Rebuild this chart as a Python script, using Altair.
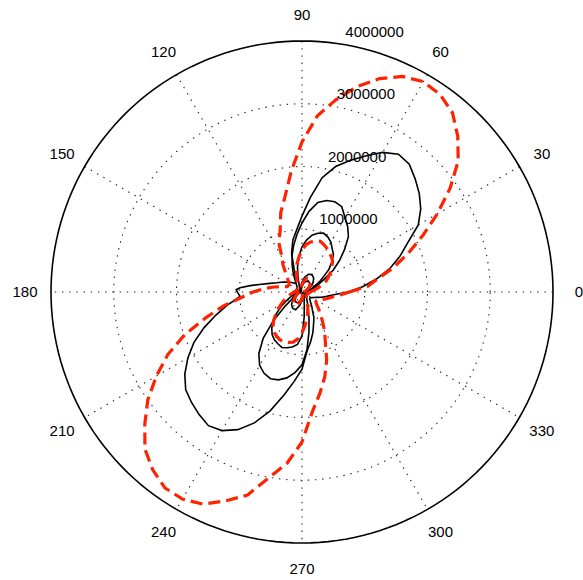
import altair as alt
import numpy as np
import pandas as pd

# ---- polar pattern data: angles in degrees, radii in millions ----
step5 = list(range(0, 360, 5))
step10 = list(range(0, 360, 10))

red_big_deg = step5
red_big_r = [0.76, 1.05, 1.23, 1.51, 1.80, 2.12, 2.49, 2.88, 3.25, 3.51, 3.73, 3.84,
             3.87, 3.79, 3.62, 3.39, 3.11, 2.82, 2.39, 1.94, 1.55, 1.31, 1.02, 0.88,
             0.64, 0.53, 0.41, 0.33, 0.29, 0.25, 0.24, 0.24, 0.25, 0.32, 0.46, 0.61,
             0.78, 0.96, 1.27, 1.59, 1.99, 2.36, 2.68, 3.00, 3.27, 3.54, 3.70, 3.81,
             3.81, 3.73, 3.54, 3.35, 3.00, 2.74, 2.39, 1.91, 1.64, 1.40, 1.15, 0.88,
             0.72, 0.57, 0.45, 0.37, 0.30, 0.27, 0.27, 0.30, 0.35, 0.41, 0.48, 0.59]

red_small_deg = step5
red_small_r = [0.13, 0.16, 0.21, 0.27, 0.35, 0.43, 0.49, 0.56, 0.62, 0.69, 0.73, 0.76,
               0.80, 0.83, 0.86, 0.84, 0.81, 0.76, 0.67, 0.56, 0.46, 0.35, 0.25, 0.18,
               0.13, 0.10, 0.08, 0.08, 0.08, 0.08, 0.08, 0.08, 0.08, 0.09, 0.10, 0.11,
               0.13, 0.14, 0.18, 0.21, 0.25, 0.32, 0.38, 0.46, 0.54, 0.64, 0.72, 0.78,
               0.81, 0.84, 0.84, 0.83, 0.81, 0.75, 0.65, 0.54, 0.43, 0.35, 0.27, 0.21,
               0.16, 0.13, 0.11, 0.10, 0.09, 0.09, 0.09, 0.09, 0.09, 0.10, 0.11, 0.12]

red_tiny_deg = step10
red_tiny_r = [0.02, 0.04, 0.07, 0.12, 0.17, 0.21, 0.24, 0.23, 0.18, 0.12, 0.07, 0.04,
              0.02, 0.02, 0.02, 0.02, 0.02, 0.02, 0.02, 0.04, 0.07, 0.11, 0.16, 0.21,
              0.23, 0.22, 0.16, 0.10, 0.05, 0.03, 0.02, 0.02, 0.02, 0.02, 0.02, 0.02]

black_big_deg = list(range(0, 171, 5)) + [173, 176, 178, 181, 184, 187] + list(range(190, 360, 5))
black_big_r = [0.73, 0.97, 1.21, 1.45, 1.66, 1.86, 2.14, 2.31, 2.44, 2.55,
               2.66, 2.68, 2.57, 2.39, 2.23, 2.07, 1.85, 1.51, 1.21, 0.99,
               0.84, 0.64, 0.35, 0.24, 0.19, 0.18, 0.18, 0.21, 0.24, 0.27,
               0.32, 0.37, 0.43, 0.53, 0.69,
               0.83, 0.99, 1.05, 1.02, 0.99, 1.08,
               1.21, 1.42, 1.66, 1.90, 2.10, 2.28, 2.42, 2.49, 2.55, 2.60,
               2.55, 2.42, 2.22, 1.96, 1.67, 1.43, 1.23, 0.94, 0.80, 0.67,
               0.54, 0.45, 0.33, 0.27, 0.21, 0.18, 0.16, 0.16, 0.18, 0.21,
               0.25, 0.32, 0.40, 0.51]

black_mid_deg = step5
black_mid_r = [0.06, 0.08, 0.10, 0.14, 0.21, 0.29, 0.41, 0.61, 0.78, 0.96, 1.15, 1.27,
               1.37, 1.50, 1.53, 1.51, 1.45, 1.29, 1.10, 0.92, 0.76, 0.61, 0.46, 0.33,
               0.22, 0.16, 0.13, 0.11, 0.10, 0.10, 0.10, 0.10, 0.10, 0.10, 0.10, 0.10,
               0.10, 0.10, 0.10, 0.10, 0.11, 0.13, 0.16, 0.19, 0.35, 0.64, 0.96, 1.20,
               1.35, 1.43, 1.47, 1.45, 1.39, 1.29, 1.16, 0.92, 0.64, 0.43, 0.29, 0.21,
               0.16, 0.13, 0.11, 0.10, 0.09, 0.08, 0.07, 0.07, 0.06, 0.06, 0.06, 0.06]

black_small_deg = step5
black_small_r = [0.05, 0.06, 0.08, 0.11, 0.16, 0.22, 0.32, 0.41, 0.56, 0.67, 0.78, 0.84,
                 0.92, 0.97, 1.00, 0.97, 0.92, 0.83, 0.72, 0.57, 0.41, 0.25, 0.14, 0.10,
                 0.06, 0.05, 0.05, 0.05, 0.05, 0.05, 0.05, 0.05, 0.05, 0.05, 0.06, 0.06,
                 0.07, 0.08, 0.10, 0.12, 0.16, 0.22, 0.30, 0.41, 0.53, 0.64, 0.75, 0.83,
                 0.88, 0.91, 0.94, 0.92, 0.89, 0.84, 0.70, 0.40, 0.21, 0.13, 0.10, 0.08,
                 0.06, 0.05, 0.05, 0.05, 0.05, 0.05, 0.05, 0.05, 0.05, 0.05, 0.05, 0.05]

black_tiny1_deg = step10
black_tiny1_r = [0.03, 0.05, 0.09, 0.15, 0.23, 0.29, 0.32, 0.30, 0.24, 0.16, 0.09, 0.05,
                 0.03, 0.02, 0.02, 0.02, 0.02, 0.02, 0.03, 0.04, 0.07, 0.12, 0.19, 0.26,
                 0.30, 0.30, 0.22, 0.14, 0.08, 0.04, 0.03, 0.02, 0.02, 0.02, 0.02, 0.02]

black_tiny2_deg = step10
black_tiny2_r = [0.02, 0.03, 0.06, 0.10, 0.15, 0.19, 0.20, 0.18, 0.14, 0.09, 0.05, 0.03,
                 0.02, 0.02, 0.02, 0.02, 0.02, 0.02, 0.02, 0.03, 0.05, 0.09, 0.13, 0.17,
                 0.19, 0.18, 0.13, 0.08, 0.05, 0.03, 0.02, 0.02, 0.02, 0.02, 0.02, 0.02]

# ---- polar grid settings ----
ring_values = [1, 2, 3]          # dotted rings (millions)
r_max = 4                        # outer solid circle (millions)
spoke_angles = [0, 30, 60, 90, 120, 150]
angle_labels = list(range(0, 360, 30))
ring_label_values = [1, 2, 3, 4]

FONT = "Liberation Sans"


def polar_frame(name, deg, r):
    """Closed polar curve -> cartesian points in drawing order."""
    deg = list(deg) + [deg[0] + 360]
    r = np.array(list(r) + [r[0]], dtype=float)
    th = np.deg2rad(deg)
    return pd.DataFrame({"series": name, "order": np.arange(len(deg)),
                         "x": r * np.cos(th), "y": r * np.sin(th)})


def circle_frame(name, radius):
    th = np.deg2rad(np.arange(0, 361, 2))
    return pd.DataFrame({"series": name, "order": np.arange(len(th)),
                         "x": radius * np.cos(th), "y": radius * np.sin(th)})


# plot-area scale: centre at (302, 292) px, outer circle radius 251 px
px_per_unit = 251 / r_max
x_scale = alt.Scale(domain=[-302 / px_per_unit, 281 / px_per_unit], nice=False, zero=False)
y_scale = alt.Scale(domain=[-288 / px_per_unit, 292 / px_per_unit], nice=False, zero=False)
X = alt.X("x:Q", scale=x_scale, axis=None)
Y = alt.Y("y:Q", scale=y_scale, axis=None)

GRID_COLOR = "#222222"
GRID_DASH = [1.4, 5.8]

# dotted rings
rings = pd.concat([circle_frame(f"ring{v}", v) for v in ring_values])
ring_layer = alt.Chart(rings).mark_line(
    color=GRID_COLOR, strokeWidth=1.1, strokeDash=GRID_DASH
).encode(x=X, y=Y, detail="series:N", order="order:Q")

# dotted spokes through the centre
sp = np.deg2rad(spoke_angles)
spokes = pd.DataFrame({"x": r_max * np.cos(sp), "y": r_max * np.sin(sp),
                       "x2": -r_max * np.cos(sp), "y2": -r_max * np.sin(sp)})
spoke_layer = alt.Chart(spokes).mark_rule(
    color=GRID_COLOR, strokeWidth=1.1, strokeDash=GRID_DASH
).encode(x=X, y=Y, x2="x2:Q", y2="y2:Q")

# outer circle
outer = circle_frame("outer", r_max)
outer_layer = alt.Chart(outer).mark_line(color="black", strokeWidth=1.6).encode(
    x=X, y=Y, order="order:Q")

# black patterns
black = pd.concat([
    polar_frame("big", black_big_deg, black_big_r),
    polar_frame("mid", black_mid_deg, black_mid_r),
    polar_frame("small", black_small_deg, black_small_r),
    polar_frame("tiny1", black_tiny1_deg, black_tiny1_r),
    polar_frame("tiny2", black_tiny2_deg, black_tiny2_r),
])
black_layer = alt.Chart(black).mark_line(color="black", strokeWidth=1.6).encode(
    x=X, y=Y, detail="series:N", order="order:Q")

# red dashed patterns
red = pd.concat([
    polar_frame("big", red_big_deg, red_big_r),
    polar_frame("small", red_small_deg, red_small_r),
    polar_frame("tiny", red_tiny_deg, red_tiny_r),
])
red_layer = alt.Chart(red).mark_line(
    color="#ff2200", strokeWidth=3.2, strokeDash=[12, 6]
).encode(x=X, y=Y, detail="series:N", order="order:Q")

# angle labels around the outside
la = np.deg2rad(angle_labels)
lab_r = 277 / px_per_unit
angle_df = pd.DataFrame({"x": lab_r * np.cos(la), "y": lab_r * np.sin(la),
                         "text": [str(a) for a in angle_labels]})
angle_layer = alt.Chart(angle_df).mark_text(
    font=FONT, fontSize=15, color="black", align="center", baseline="middle"
).encode(x=X, y=Y, text="text:N")

# ring value labels along 82 degrees
a82 = np.deg2rad(82)
ring_df = pd.DataFrame({
    "x": [(v + 0.05) * np.cos(a82) for v in ring_label_values],
    "y": [(v + 0.05) * np.sin(a82) for v in ring_label_values],
    "text": [str(int(v * 1_000_000)) for v in ring_label_values],
})
ring_text_layer = alt.Chart(ring_df).mark_text(
    font=FONT, fontSize=15, color="black", align="left", baseline="bottom", dx=8
).encode(x=X, y=Y, text="text:N")

chart = alt.layer(
    ring_layer, spoke_layer, outer_layer, black_layer, red_layer,
    angle_layer, ring_text_layer
).properties(
    width=583, height=580,
    autosize=alt.AutoSizeParams(type="none"),
    padding=0,
    background="white",
).configure_view(stroke=None)

chart.save("out.html", embed_options={"renderer": "svg", "actions": False})
